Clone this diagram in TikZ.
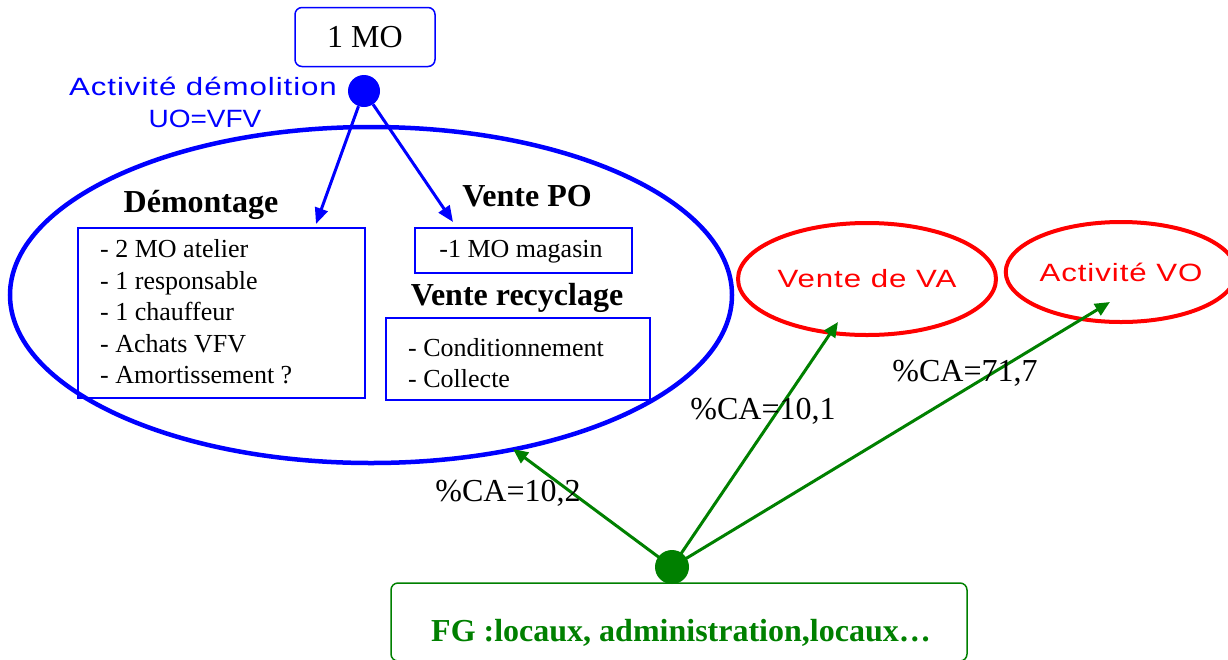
\documentclass[tikz,border=0pt]{standalone}
\usepackage{fontspec}
\setmainfont{Liberation Serif}
\newfontfamily\spsans[LetterSpace=3]{Liberation Sans}
\newfontfamily\plainsans{Liberation Sans}
\usetikzlibrary{shapes.geometric,arrows.meta}
\definecolor{myblue}{RGB}{0,0,255}
\definecolor{myred}{RGB}{255,0,0}
\definecolor{mygreen}{RGB}{0,128,0}
\newcommand{\widetxt}[1]{\scalebox{1.25}[1]{\spsans\fontsize{25}{29}\selectfont #1}}
\tikzset{
  boxline/.style={draw=myblue, line width=1.5pt, inner sep=0pt},
  listtext/.style={align=left, inner sep=0pt, font=\fontsize{26}{31.5}\selectfont},
  titletext/.style={font=\bfseries\fontsize{32}{36}\selectfont},
  blueell/.style={draw=myblue, ellipse, line width=4.5pt, inner sep=0pt},
  redell/.style={draw=myred, ellipse, line width=4pt, inner sep=0pt, text=myred},
  bluearrow/.style={draw=myblue, line width=3pt, -{Triangle[length=16pt,width=13pt]}},
  greenarrow/.style={draw=mygreen, line width=3pt, -{Triangle[length=15pt,width=13pt]}},
  catext/.style={font=\fontsize{32}{36}\selectfont},
  dot/.style={circle, inner sep=0pt},
}
\begin{document}
\begin{tikzpicture}[x=1pt,y=-1pt]
\useasboundingbox (0,0) rectangle (1228,659);
% top
\node[draw=myblue, line width=1.5pt, rounded corners=7pt, minimum width=140pt, minimum height=59pt, inner sep=0pt, font=\fontsize{32}{36}\selectfont] (mo) at (365,37) {1 MO};
\node[dot, fill=myblue, minimum size=32pt] (bdot) at (364,91) {};
\node[text=myblue] (actdem) at (203,86) {\widetxt{Activité démolition}};
\node[text=myblue] (uo) at (205,119) {\scalebox{1.12}[1]{\plainsans\fontsize{25}{29}\selectfont UO=VFV}};
% big ellipse
\node[blueell, minimum width=722pt, minimum height=336pt] (big) at (371,295) {};
% Démontage
\node[titletext] (demt) at (201,205) {Démontage};
\node[boxline, minimum width=287pt, minimum height=170pt] (dem) at (221.5,313) {};
\node[listtext, anchor=west] (demtxt) at (100,312)
  {- 2 MO atelier\\- 1 responsable\\- 1 chauffeur\\- Achats VFV\\- Amortissement ?};
% Vente PO
\node[titletext] (pot) at (527,196) {Vente PO};
\node[boxline, minimum width=217pt, minimum height=45pt] (po) at (523.5,250.5) {};
\node[font=\fontsize{26}{30}\selectfont, inner sep=0pt] (potxt) at (521,252) {-1 MO magasin};
% Vente recyclage
\node[titletext] (rect) at (517,298) {Vente recyclage};
\node[boxline, minimum width=264pt, minimum height=82pt] (rec) at (518,359) {};
\node[listtext, anchor=west] (rectxt) at (408,363) {- Conditionnement\\- Collecte};
% blue arrows
\coordinate (demin) at (316,224);
\coordinate (poin) at (453,222);
\draw[bluearrow] (bdot) -- (demin);
\draw[bluearrow] (bdot) -- (poin);
% red ellipses
\node[redell, minimum width=258pt, minimum height=112pt] (va) at (867,279) {\widetxt{Vente de VA}};
\node[redell, minimum width=208pt, minimum height=100pt] (vo) at (1121,272) {\widetxt{Activité VO}};
% FG
\node[draw=mygreen, line width=1.5pt, rounded corners=7pt, minimum width=576pt, minimum height=78pt, inner sep=0pt] (fg) at (679,622) {};
\node[text=mygreen, font=\bfseries\fontsize{32}{36}\selectfont, inner sep=0pt] (fgtxt) at (681,633) {FG :locaux, administration,locaux\dots};
\node[dot, fill=mygreen, minimum size=34pt] (gdot) at (672,567) {};
% green arrows
\coordinate (bigin) at (513,449);
\coordinate (vain) at (838,322);
\coordinate (voin) at (1110,302);
\draw[greenarrow] (gdot.center) -- (bigin);
\draw[greenarrow] (gdot.center) -- (vain);
\draw[greenarrow] (gdot.center) -- (voin);
\node[catext] (ca1) at (508,493) {\%CA=10,2};
\node[catext] (ca2) at (763,411) {\%CA=10,1};
\node[catext] (ca3) at (965,373) {\%CA=71,7};
\end{tikzpicture}
\end{document}
